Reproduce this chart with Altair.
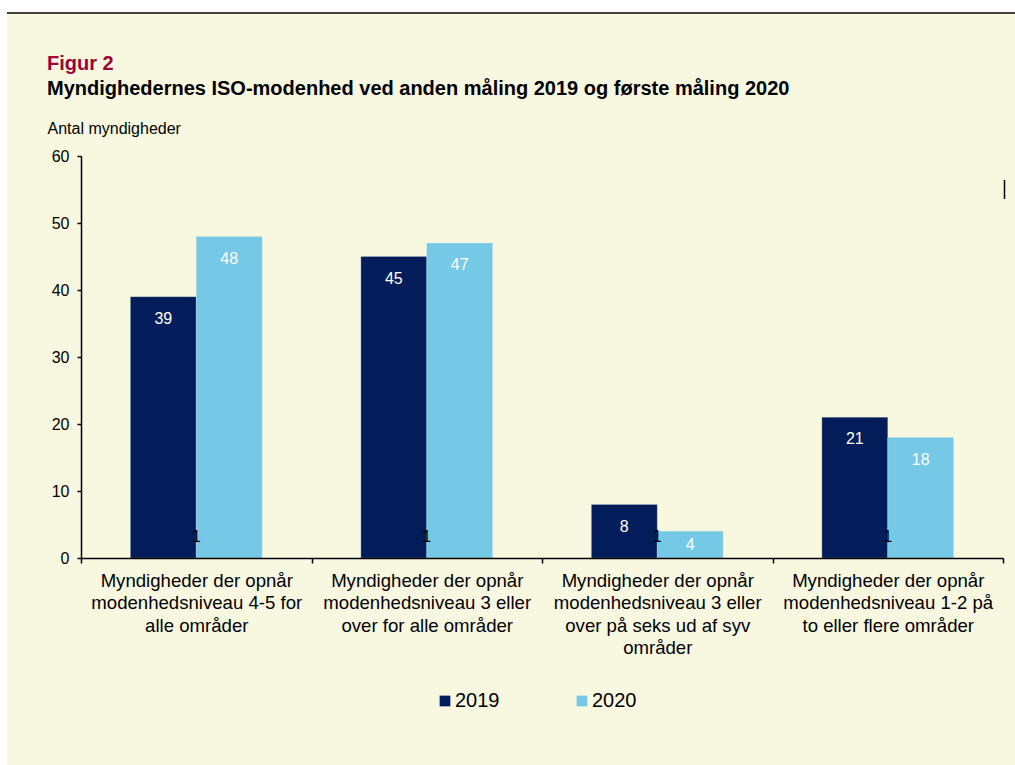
import altair as alt
import pandas as pd

categories = [
    "Myndigheder der opnår|modenhedsniveau 4-5 for|alle områder",
    "Myndigheder der opnår|modenhedsniveau 3 eller|over for alle områder",
    "Myndigheder der opnår|modenhedsniveau 3 eller|over på seks ud af syv|områder",
    "Myndigheder der opnår|modenhedsniveau 1-2 på|to eller flere områder",
]
years = ["2019", "2020"]
values_2019 = [39, 45, 8, 21]
values_2020 = [48, 47, 4, 18]
marker_text = ["1", "1", "1", "1"]
colors = ["#031D5B", "#75C9E7"]

rows = []
for c, a, b in zip(categories, values_2019, values_2020):
    rows.append({"category": c, "year": "2019", "value": a})
    rows.append({"category": c, "year": "2020", "value": b})
df = pd.DataFrame(rows)
markers = pd.DataFrame({"category": categories, "t": marker_text})

FONT = "Liberation Sans"
W, H = 922, 402

x_enc = alt.X(
    "category:N",
    sort=categories,
    scale=alt.Scale(paddingInner=0, paddingOuter=0),
    axis=alt.Axis(
        title=None,
        zindex=2,
        labelExpr="split(datum.label, '|')",
        labelFontSize=18.6,
        labelLineHeight=22.5,
        labelColor="black",
        labelAngle=0,
        labelLimit=0,
        labelOverlap=False,
        labelPadding=8,
        tickBand="extent",
        tickSize=5,
        tickColor="black",
        tickWidth=1.5,
        domainColor="black",
        domainWidth=1.5,
    ),
)
y_enc = alt.Y(
    "value:Q",
    scale=alt.Scale(domain=[0, 60], nice=False),
    axis=alt.Axis(
        zindex=2,
        values=[0, 10, 20, 30, 40, 50, 60],
        grid=False,
        tickSize=4,
        tickColor="black",
        tickWidth=1.5,
        domainColor="black",
        domainWidth=1.5,
        labelFontSize=16,
        labelColor="black",
        labelPadding=8,
        title="Antal myndigheder",
        titleAngle=0,
        titleAlign="left",
        titleBaseline="alphabetic",
        titleX=-34,
        titleY=-23,
        titleFontSize=16,
        titleFontWeight="normal",
        titleColor="black",
    ),
)
xoff = alt.XOffset("year:N", sort=years, scale=alt.Scale(paddingInner=0, paddingOuter=0.75))

one = alt.Data(values=[{}])

bg = alt.Chart(one).mark_rect(color="#F8F8E1").encode(
    x=alt.value(-74), x2=alt.value(W + 20), y=alt.value(-142), y2=alt.value(H + 220)
)
topline = alt.Chart(one).mark_rule(color="black", strokeWidth=1.5).encode(
    x=alt.value(-74), x2=alt.value(W + 20), y=alt.value(-143)
)
sidemark = alt.Chart(one).mark_rule(color="black", strokeWidth=1.5).encode(
    x=alt.value(W + 1.5), y=alt.value(24), y2=alt.value(43)
)
title1 = alt.Chart(one).mark_text(
    text="Figur 2", align="left", baseline="alphabetic", font=FONT,
    fontSize=20, fontWeight="bold", color="#9C0036"
).encode(x=alt.value(-34), y=alt.value(-86.5))
title2 = alt.Chart(one).mark_text(
    text="Myndighedernes ISO-modenhed ved anden måling 2019 og første måling 2020",
    align="left", baseline="alphabetic", font=FONT,
    fontSize=20, fontWeight="bold", color="black"
).encode(x=alt.value(-34), y=alt.value(-61))

bars = alt.Chart(df).mark_bar(stroke="#DDE6E0", strokeWidth=0.5, strokeOpacity=0.5).encode(
    x=x_enc,
    xOffset=xoff,
    y=y_enc,
    color=alt.Color(
        "year:N",
        sort=years,
        scale=alt.Scale(domain=years, range=colors),
        legend=alt.Legend(
            title=None,
            orient="none",
            legendX=354,
            legendY=535,
            direction="horizontal",
            symbolType="square",
            symbolSize=115,
            symbolStrokeWidth=0,
            labelFontSize=20,
            labelColor="black",
            labelOffset=0,
            columnPadding=72,
            padding=0,
        ),
    ),
)
labels = alt.Chart(df).transform_calculate(
    ly="max(datum.value - 3.3, datum.value / 2)"
).mark_text(color="white", fontSize=16, baseline="middle", font=FONT).encode(
    x=alt.X("category:N", sort=categories),
    xOffset=xoff,
    y=alt.Y("ly:Q"),
    text=alt.Text("value:Q"),
)
marks1 = alt.Chart(markers).mark_text(color="black", fontSize=16, baseline="middle", font=FONT, dy=-21).encode(
    x=alt.X("category:N", sort=categories),
    y=alt.datum(0),
    text="t:N",
)

chart = alt.layer(bg, topline, sidemark, title1, title2, bars, labels, marks1).properties(
    width=W,
    height=H,
    autosize=alt.AutoSizeParams(type="none"),
    padding={"left": 81, "top": 156, "right": 12, "bottom": 207},
    background="white",
).configure_view(stroke=None).configure(font=FONT)

chart.save("out.html", embed_options={"renderer": "svg", "actions": False})
